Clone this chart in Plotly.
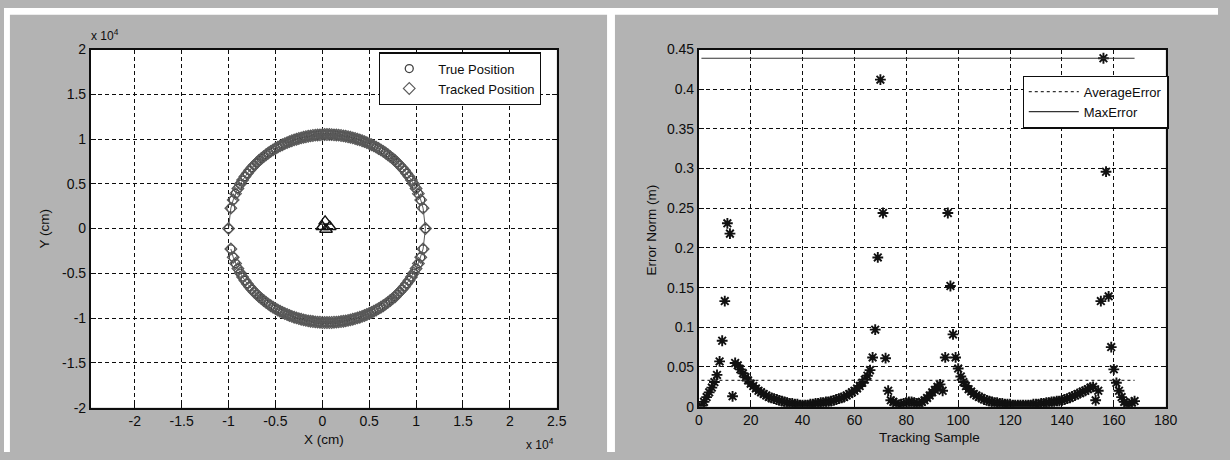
import plotly.graph_objects as go

# ---------------- data (positions in units of 10^4 cm) ----------------
true_x = [
    -1.000, -0.975, -0.950, -0.925, -0.900, -0.875, -0.850, -0.825, -0.800, -0.775,
    -0.750, -0.725, -0.700, -0.675, -0.650, -0.625, -0.600, -0.575, -0.550, -0.525,
    -0.500, -0.475, -0.450, -0.425, -0.400, -0.375, -0.350, -0.325, -0.300, -0.275,
    -0.250, -0.225, -0.200, -0.175, -0.150, -0.125, -0.100, -0.075, -0.050, -0.025,
    0.000, 0.025, 0.050, 0.075, 0.100, 0.125, 0.150, 0.175, 0.200, 0.225,
    0.250, 0.275, 0.300, 0.325, 0.350, 0.375, 0.400, 0.425, 0.450, 0.475,
    0.500, 0.525, 0.550, 0.575, 0.600, 0.625, 0.650, 0.675, 0.700, 0.725,
    0.750, 0.775, 0.800, 0.825, 0.850, 0.875, 0.900, 0.925, 0.950, 0.975,
    1.000, 1.025, 1.050, 1.075, 1.100,
    1.075, 1.050, 1.025, 1.000, 0.975, 0.950, 0.925, 0.900, 0.875, 0.850,
    0.825, 0.800, 0.775, 0.750, 0.725, 0.700, 0.675, 0.650, 0.625, 0.600,
    0.575, 0.550, 0.525, 0.500, 0.475, 0.450, 0.425, 0.400, 0.375, 0.350,
    0.325, 0.300, 0.275, 0.250, 0.225, 0.200, 0.175, 0.150, 0.125, 0.100,
    0.075, 0.050, 0.025, 0.000, -0.025, -0.050, -0.075, -0.100, -0.125, -0.150,
    -0.175, -0.200, -0.225, -0.250, -0.275, -0.300, -0.325, -0.350, -0.375, -0.400,
    -0.425, -0.450, -0.475, -0.500, -0.525, -0.550, -0.575, -0.600, -0.625, -0.650,
    -0.675, -0.700, -0.725, -0.750, -0.775, -0.800, -0.825, -0.850, -0.875, -0.900,
    -0.925, -0.950, -0.975,
]
true_y = [
    0.000, 0.228, 0.320, 0.390, 0.447, 0.497, 0.541, 0.580, 0.616, 0.650,
    0.680, 0.708, 0.735, 0.760, 0.783, 0.804, 0.825, 0.844, 0.862, 0.879,
    0.894, 0.909, 0.923, 0.936, 0.949, 0.960, 0.971, 0.981, 0.990, 0.998,
    1.006, 1.013, 1.020, 1.026, 1.031, 1.035, 1.039, 1.043, 1.045, 1.047,
    1.049, 1.050, 1.050, 1.050, 1.049, 1.047, 1.045, 1.043, 1.039, 1.035,
    1.031, 1.026, 1.020, 1.013, 1.006, 0.998, 0.990, 0.981, 0.971, 0.960,
    0.949, 0.936, 0.923, 0.909, 0.894, 0.879, 0.862, 0.844, 0.825, 0.804,
    0.783, 0.760, 0.735, 0.708, 0.680, 0.650, 0.616, 0.580, 0.541, 0.497,
    0.447, 0.390, 0.320, 0.228, 0.000,
    -0.228, -0.320, -0.390, -0.447, -0.497, -0.541, -0.580, -0.616, -0.650, -0.680,
    -0.708, -0.735, -0.760, -0.783, -0.804, -0.825, -0.844, -0.862, -0.879, -0.894,
    -0.909, -0.923, -0.936, -0.949, -0.960, -0.971, -0.981, -0.990, -0.998, -1.006,
    -1.013, -1.020, -1.026, -1.031, -1.035, -1.039, -1.043, -1.045, -1.047, -1.049,
    -1.050, -1.050, -1.050, -1.049, -1.047, -1.045, -1.043, -1.039, -1.035, -1.031,
    -1.026, -1.020, -1.013, -1.006, -0.998, -0.990, -0.981, -0.971, -0.960, -0.949,
    -0.936, -0.923, -0.909, -0.894, -0.879, -0.862, -0.844, -0.825, -0.804, -0.783,
    -0.760, -0.735, -0.708, -0.680, -0.650, -0.616, -0.580, -0.541, -0.497, -0.447,
    -0.390, -0.320, -0.228,
]
tracked_x = [
    -1.000, -0.975, -0.950, -0.925, -0.900, -0.875, -0.850, -0.825, -0.800, -0.774,
    -0.748, -0.727, -0.700, -0.675, -0.650, -0.625, -0.600, -0.575, -0.550, -0.525,
    -0.500, -0.475, -0.450, -0.425, -0.400, -0.375, -0.350, -0.325, -0.300, -0.275,
    -0.250, -0.225, -0.200, -0.175, -0.150, -0.125, -0.100, -0.075, -0.050, -0.025,
    0.000, 0.025, 0.050, 0.075, 0.100, 0.125, 0.150, 0.175, 0.200, 0.225,
    0.250, 0.275, 0.300, 0.325, 0.350, 0.375, 0.400, 0.425, 0.450, 0.475,
    0.500, 0.525, 0.550, 0.575, 0.600, 0.625, 0.650, 0.675, 0.700, 0.725,
    0.752, 0.773, 0.800, 0.825, 0.850, 0.875, 0.900, 0.925, 0.950, 0.975,
    1.000, 1.025, 1.050, 1.075, 1.100,
    1.075, 1.050, 1.025, 1.000, 0.975, 0.950, 0.925, 0.900, 0.875, 0.850,
    0.826, 0.802, 0.776, 0.750, 0.725, 0.700, 0.675, 0.650, 0.625, 0.600,
    0.575, 0.550, 0.525, 0.500, 0.475, 0.450, 0.425, 0.400, 0.375, 0.350,
    0.325, 0.300, 0.275, 0.250, 0.225, 0.200, 0.175, 0.150, 0.125, 0.100,
    0.075, 0.050, 0.025, 0.000, -0.025, -0.050, -0.075, -0.100, -0.125, -0.150,
    -0.175, -0.200, -0.225, -0.250, -0.275, -0.300, -0.325, -0.350, -0.375, -0.400,
    -0.425, -0.450, -0.475, -0.500, -0.525, -0.550, -0.575, -0.600, -0.625, -0.650,
    -0.675, -0.700, -0.725, -0.750, -0.775, -0.800, -0.825, -0.850, -0.875, -0.900,
    -0.925, -0.950, -0.975,
]
tracked_y = [
    0.000, 0.228, 0.320, 0.390, 0.447, 0.497, 0.541, 0.580, 0.616, 0.650,
    0.682, 0.706, 0.735, 0.760, 0.783, 0.804, 0.825, 0.844, 0.862, 0.879,
    0.894, 0.909, 0.923, 0.936, 0.949, 0.960, 0.971, 0.981, 0.990, 0.998,
    1.006, 1.013, 1.020, 1.026, 1.031, 1.035, 1.039, 1.043, 1.045, 1.047,
    1.049, 1.050, 1.050, 1.050, 1.049, 1.047, 1.045, 1.043, 1.039, 1.035,
    1.031, 1.026, 1.020, 1.013, 1.006, 0.998, 0.990, 0.981, 0.971, 0.960,
    0.949, 0.936, 0.923, 0.909, 0.894, 0.879, 0.862, 0.844, 0.825, 0.804,
    0.781, 0.763, 0.735, 0.708, 0.680, 0.650, 0.616, 0.580, 0.541, 0.497,
    0.447, 0.390, 0.320, 0.228, 0.000,
    -0.228, -0.320, -0.390, -0.447, -0.497, -0.541, -0.580, -0.616, -0.650, -0.680,
    -0.706, -0.733, -0.762, -0.783, -0.804, -0.825, -0.844, -0.862, -0.879, -0.894,
    -0.909, -0.923, -0.936, -0.949, -0.960, -0.971, -0.981, -0.990, -0.998, -1.006,
    -1.013, -1.020, -1.026, -1.031, -1.035, -1.039, -1.043, -1.045, -1.047, -1.049,
    -1.050, -1.050, -1.050, -1.049, -1.047, -1.045, -1.043, -1.039, -1.035, -1.031,
    -1.026, -1.020, -1.013, -1.006, -0.998, -0.990, -0.981, -0.971, -0.960, -0.949,
    -0.936, -0.923, -0.909, -0.894, -0.879, -0.862, -0.844, -0.825, -0.804, -0.783,
    -0.760, -0.735, -0.708, -0.680, -0.650, -0.616, -0.580, -0.541, -0.497, -0.447,
    -0.390, -0.320, -0.228,
]
anchor_x = [0.030, 0.000, 0.080, 0.040]
anchor_y = [0.080, 0.020, 0.020, -0.010]

xy_ticks = [-2, -1.5, -1, -0.5, 0, 0.5, 1, 1.5, 2, 2.5]
xy_ticklabels = ["-2", "-1.5", "-1", "-0.5", "0", "0.5", "1", "1.5", "2", "2.5"]
y1_ticks = [-2, -1.5, -1, -0.5, 0, 0.5, 1, 1.5, 2]
y1_ticklabels = ["-2", "-1.5", "-1", "-0.5", "0", "0.5", "1", "1.5", "2"]

sample = list(range(1, 169))
error_norm = [
    0.001, 0.006, 0.012, 0.018, 0.024, 0.031, 0.040, 0.057, 0.083, 0.133,
    0.231, 0.218, 0.013, 0.055, 0.052, 0.047, 0.042, 0.037, 0.033, 0.029,
    0.026, 0.023, 0.020, 0.018, 0.016, 0.014, 0.012, 0.011, 0.010, 0.009,
    0.008, 0.007, 0.006, 0.005, 0.004, 0.004, 0.003, 0.003, 0.002, 0.002,
    0.002, 0.002, 0.003, 0.003, 0.004, 0.004, 0.005, 0.005, 0.006, 0.006,
    0.007, 0.008, 0.009, 0.010, 0.011, 0.012, 0.014, 0.016, 0.018, 0.020,
    0.023, 0.026, 0.030, 0.034, 0.039, 0.046, 0.062, 0.097, 0.188, 0.412,
    0.244, 0.061, 0.020, 0.008, 0.006, 0.004, 0.002, 0.003, 0.004, 0.005,
    0.006, 0.006, 0.005, 0.004, 0.004, 0.006, 0.008, 0.011, 0.014, 0.018,
    0.021, 0.025, 0.028, 0.020, 0.062, 0.244, 0.152, 0.091, 0.062, 0.048,
    0.038, 0.031, 0.026, 0.022, 0.019, 0.016, 0.014, 0.012, 0.011, 0.009,
    0.008, 0.007, 0.006, 0.005, 0.005, 0.004, 0.004, 0.003, 0.003, 0.003,
    0.002, 0.002, 0.002, 0.002, 0.002, 0.002, 0.002, 0.002, 0.003, 0.003,
    0.003, 0.004, 0.004, 0.005, 0.005, 0.006, 0.006, 0.007, 0.007, 0.008,
    0.009, 0.010, 0.011, 0.013, 0.014, 0.016, 0.017, 0.019, 0.020, 0.022,
    0.024, 0.025, 0.008, 0.020, 0.133, 0.439, 0.296, 0.139, 0.075, 0.047,
    0.030, 0.020, 0.012, 0.006, 0.003, 0.003, 0.005, 0.007,
]
average_error = 0.033
max_error = 0.439
line_span = [1, 168]

x2_ticks = [0, 20, 40, 60, 80, 100, 120, 140, 160, 180]
y2_ticks = [0, 0.05, 0.1, 0.15, 0.2, 0.25, 0.3, 0.35, 0.4, 0.45]
y2_ticklabels = ["0", "0.05", "0.1", "0.15", "0.2", "0.25", "0.3", "0.35", "0.4", "0.45"]

# ---------------- figure ----------------
W, H = 1230, 460
FONT = "Liberation Sans, Arial, sans-serif"
INK = "#0d0d0d"


def px(x):
    return x / W


def py(y):
    return 1 - y / H


fig = go.Figure()

fig.add_trace(go.Scatter(x=true_x, y=true_y, mode="lines", xaxis="x", yaxis="y",
                         line=dict(color="#444444", width=0.9), showlegend=False,
                         hoverinfo="skip"))
fig.add_trace(go.Scatter(x=true_x, y=true_y, mode="markers", name="True Position",
                         xaxis="x", yaxis="y", legend="legend",
                         marker=dict(symbol="circle-open", size=8, color="#404040",
                                     line=dict(width=1.3, color="#404040"))))
fig.add_trace(go.Scatter(x=tracked_x, y=tracked_y, mode="markers", name="Tracked Position",
                         xaxis="x", yaxis="y", legend="legend",
                         marker=dict(symbol="diamond-open", size=9, color="#5a5a5a",
                                     line=dict(width=1.2, color="#5a5a5a"))))
fig.add_trace(go.Scatter(x=anchor_x, y=anchor_y, mode="markers", xaxis="x", yaxis="y",
                         showlegend=False,
                         marker=dict(symbol="triangle-up-open", size=11, color="#111111",
                                     line=dict(width=1.4, color="#111111"))))

fig.add_trace(go.Scatter(x=sample, y=error_norm, mode="markers", xaxis="x2", yaxis="y2",
                         showlegend=False,
                         marker=dict(symbol="asterisk-open", size=9, color="#111111",
                                     line=dict(width=1.9, color="#111111"))))
fig.add_trace(go.Scatter(x=line_span, y=[average_error, average_error], mode="lines",
                         name="AverageError", xaxis="x2", yaxis="y2", legend="legend2",
                         line=dict(color="#333333", width=1.3, dash="dot")))
fig.add_trace(go.Scatter(x=line_span, y=[max_error, max_error], mode="lines",
                         name="MaxError", xaxis="x2", yaxis="y2", legend="legend2",
                         line=dict(color="#333333", width=1.2)))

axis_common = dict(showline=True, linecolor=INK, linewidth=1.8, mirror="ticks",
                   ticks="inside", ticklen=5, tickcolor=INK, tickwidth=1.2,
                   showgrid=True, gridcolor=INK, gridwidth=1.3, griddash="4px,3px",
                   zeroline=False, tickfont=dict(family=FONT, size=14, color=INK),
                   fixedrange=True)

fig.update_layout(
    width=W, height=H,
    margin=dict(l=0, r=0, t=0, b=0),
    paper_bgcolor="#b3b3b3",
    plot_bgcolor="#ffffff",
    font=dict(family=FONT, size=13, color=INK),
    xaxis=dict(domain=[px(88), px(560)], range=[-2.468, 2.5], anchor="y",
               tickmode="array", tickvals=xy_ticks, ticktext=xy_ticklabels, **axis_common),
    yaxis=dict(domain=[py(414), py(43)], range=[-2, 2], anchor="x",
               tickmode="array", tickvals=y1_ticks, ticktext=y1_ticklabels, **axis_common),
    xaxis2=dict(domain=[px(704), px(1177)], range=[0, 180], anchor="y2",
                tickmode="array", tickvals=x2_ticks, **axis_common),
    yaxis2=dict(domain=[py(413), py(43)], range=[0, 0.45], anchor="x2",
                tickmode="array", tickvals=y2_ticks, ticktext=y2_ticklabels, **axis_common),
    legend=dict(x=px(380), y=py(46), xanchor="left", yanchor="top",
                bgcolor="#ffffff", bordercolor=INK, borderwidth=1.2,
                font=dict(family=FONT, size=13, color=INK),
                tracegroupgap=0, itemwidth=48),
    legend2=dict(x=px(1032), y=py(70), xanchor="left", yanchor="top",
                 bgcolor="#ffffff", bordercolor=INK, borderwidth=1.2,
                 font=dict(family=FONT, size=13, color=INK),
                 tracegroupgap=0, itemwidth=50),
    showlegend=True,
)

# white paper strips around the scanned panels
strips = [(0, 0, W, 7), (0, 0, 6, H), (611, 0, 619, H)]
for x0, y0, x1, y1 in strips:
    fig.add_shape(type="rect", xref="paper", yref="paper",
                  x0=px(x0), x1=px(x1), y0=py(y1), y1=py(y0),
                  fillcolor="#ffffff", line=dict(width=0), layer="below")

ann = [
    dict(text="x 10<sup>4</sup>", x=px(86), y=py(28), xanchor="left", yanchor="middle", size=12),
    dict(text="x 10<sup>4</sup>", x=px(527), y=py(452), xanchor="left", yanchor="middle", size=12),
    dict(text="X (cm)", x=px(324), y=py(447), xanchor="center", yanchor="middle", size=13.5),
    dict(text="Y (cm)", x=px(41), y=py(228), xanchor="center", yanchor="middle", size=13.5, angle=-90),
    dict(text="Error Norm (m)", x=px(656), y=py(230), xanchor="center", yanchor="middle", size=13.5, angle=-90),
    dict(text="Tracking Sample", x=px(938), y=py(445), xanchor="center", yanchor="middle", size=13.5),
]
for a in ann:
    fig.add_annotation(text=a["text"], x=a["x"], y=a["y"], xref="paper", yref="paper",
                       xanchor=a["xanchor"], yanchor=a["yanchor"], showarrow=False,
                       textangle=a.get("angle", 0),
                       font=dict(family=FONT, size=a["size"], color=INK))

fig.write_html("out.html", config={"displayModeBar": False},
               post_script="document.body.style.margin='0px';")
